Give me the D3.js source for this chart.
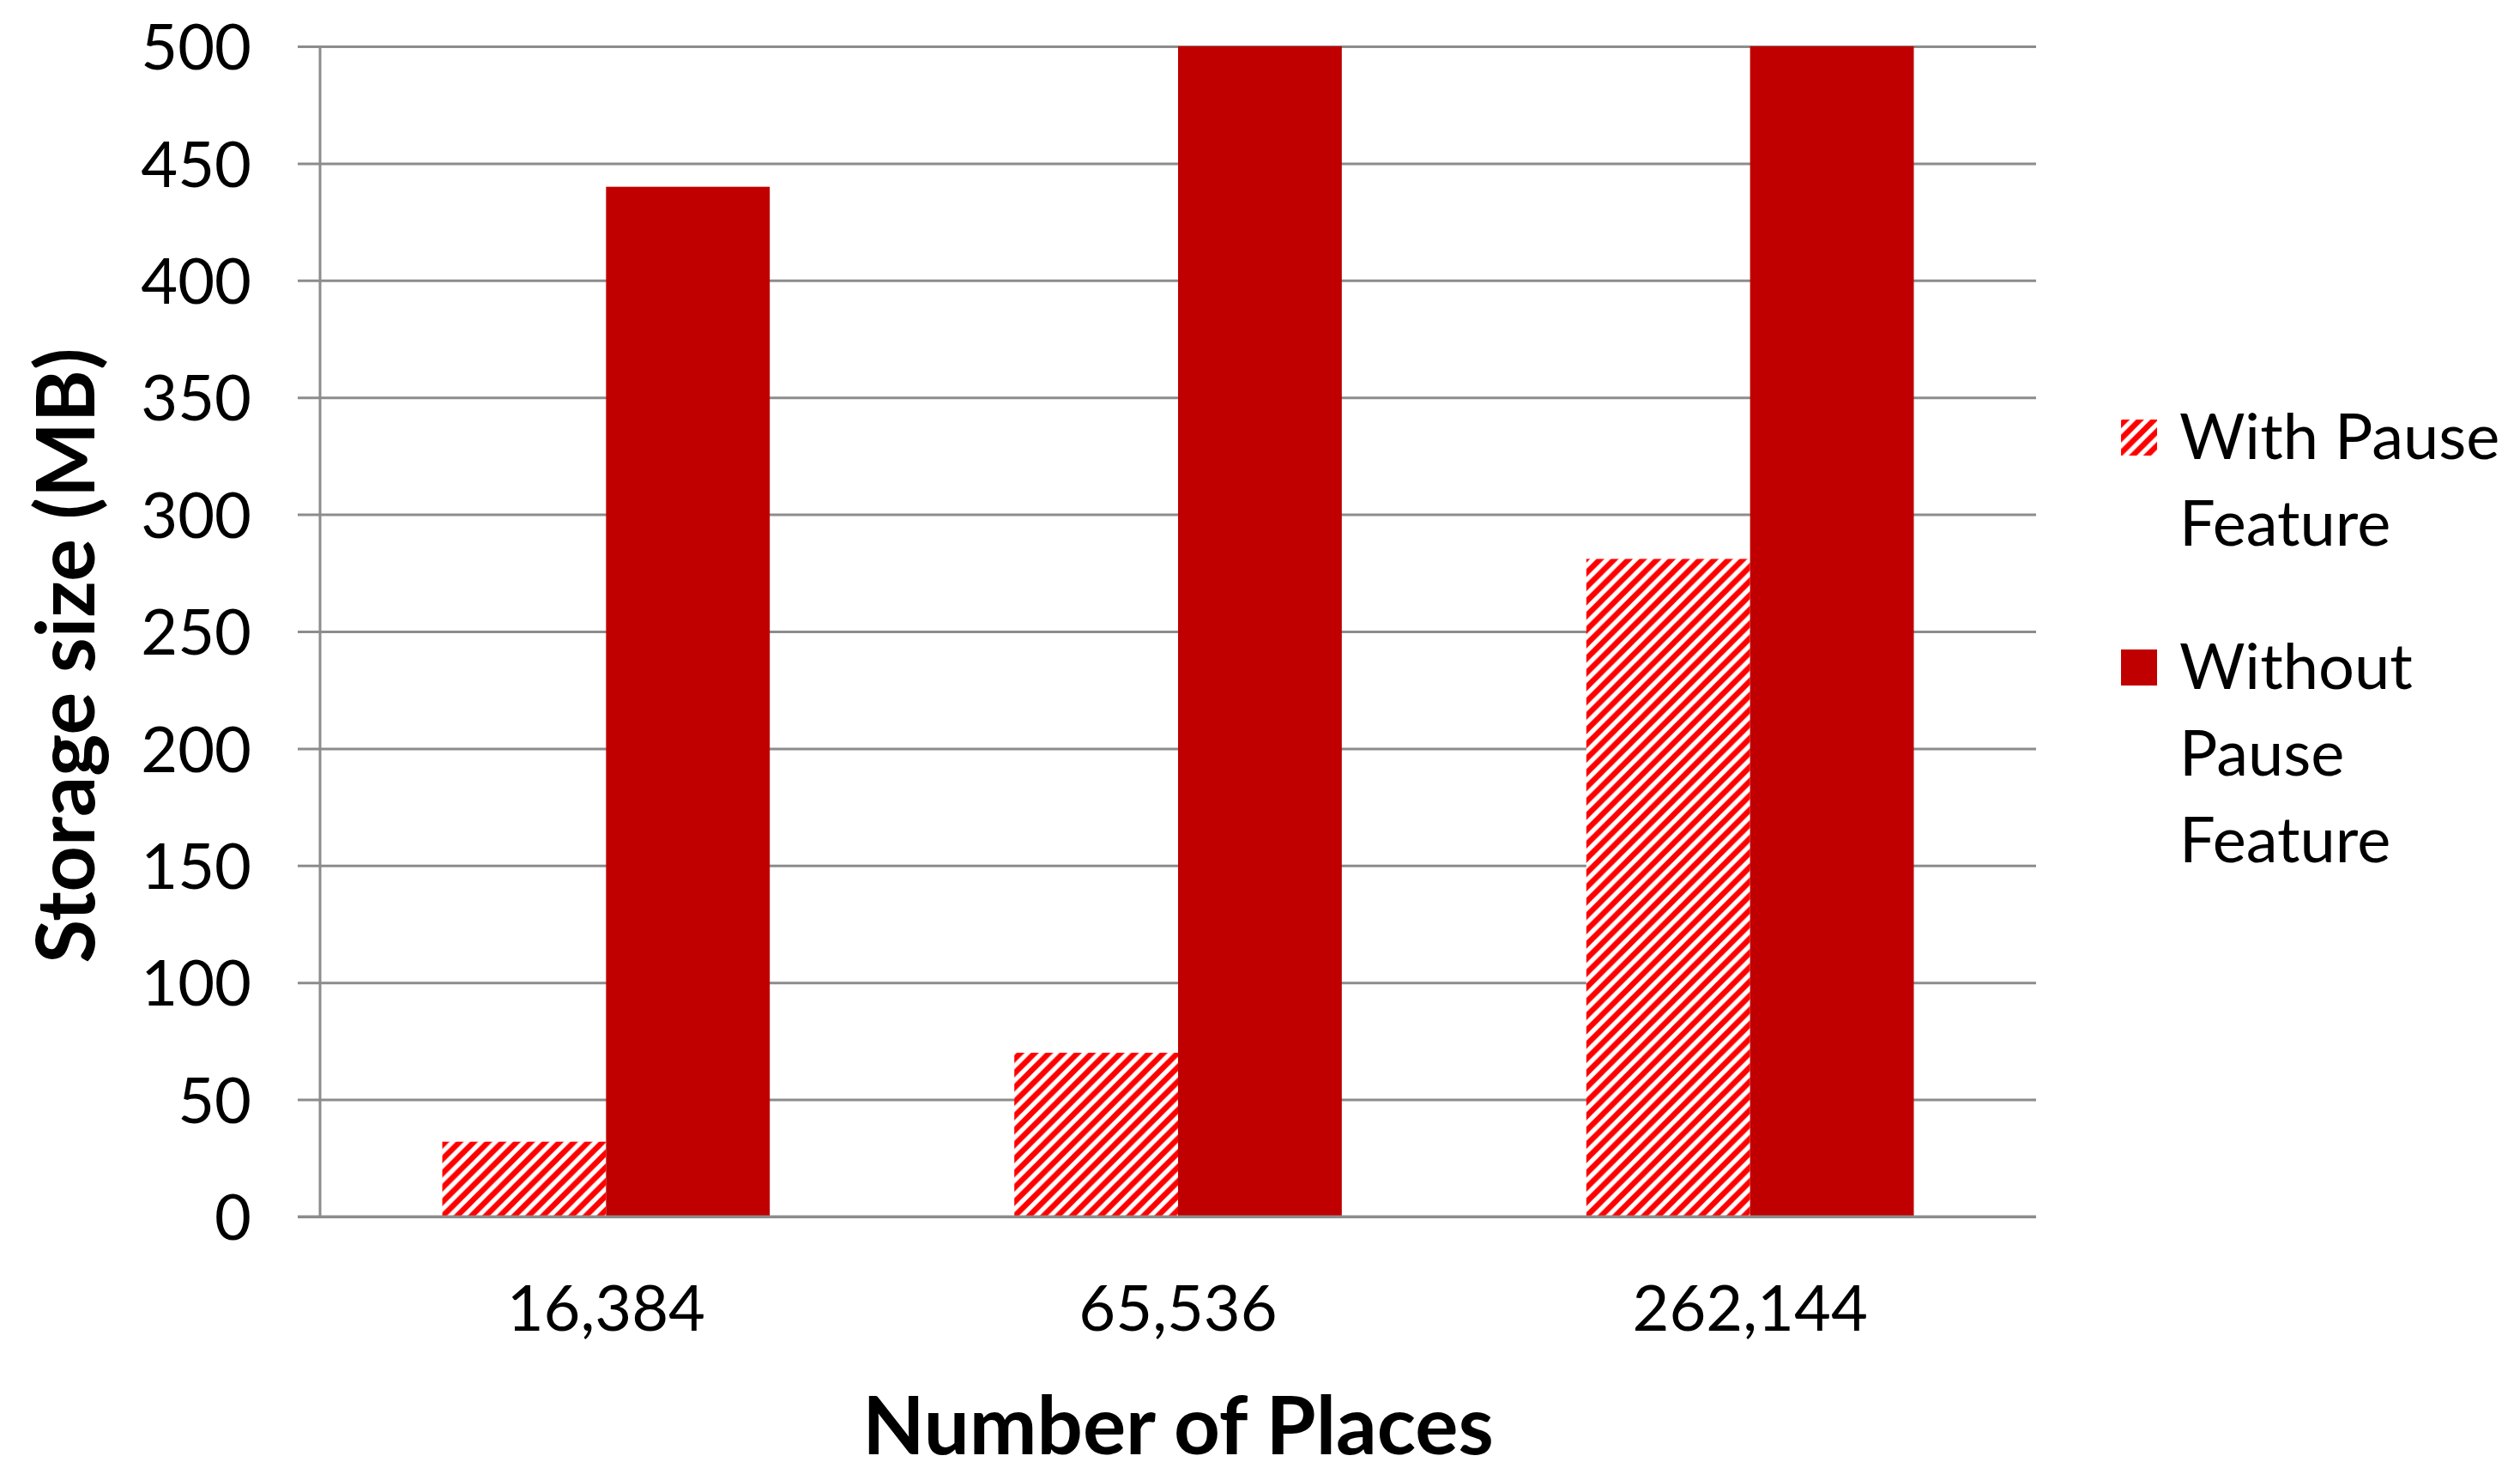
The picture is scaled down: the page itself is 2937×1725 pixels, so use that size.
<!DOCTYPE html>
<html><head><meta charset="utf-8">
<script src="https://cdn.jsdelivr.net/npm/d3@7"></script>
<style>body{margin:0;background:#fff;overflow:hidden}</style>
</head><body>
<svg id="c" width="2937" height="1725"></svg>
<script>
// ---- data ----
const categories = ["16,384", "65,536", "262,144"];
const seriesNames = ["With Pause Feature", "Without Pause Feature"];
const withPause = [32, 70, 281];
const withoutPause = [440, 500, 500];
const yTicks = [0, 50, 100, 150, 200, 250, 300, 350, 400, 450, 500];
const legendLines = [["With Pause", "Feature"], ["Without", "Pause", "Feature"]];
const xTitle = "Number of Places";
const yTitle = "Storage size (MB)";

const W = 2937, H = 1725;
const plot = {left: 373, right: 2373, top: 54, bottom: 1418};
const FONT = "Lato, 'Open Sans', sans-serif";
const GRID = "#8c8c8c";
const SOLID = "#c00000";
const HATCH = "#ff0000";

const svg = d3.select("#c");
svg.append("rect").attr("width", W).attr("height", H).attr("fill", "#fff");

// hatch pattern
const P = 50 / 3;
const defs = svg.append("defs");
const pat = defs.append("pattern").attr("id", "hatch")
  .attr("patternUnits", "userSpaceOnUse").attr("width", P).attr("height", P);
pat.append("rect").attr("width", P).attr("height", P).attr("fill", "#fff");
pat.append("path").attr("d", `M${-P/4},${P/4} L${P/4},${-P/4} M0,${P} L${P},0 M${3*P/4},${5*P/4} L${5*P/4},${3*P/4}`)
  .attr("stroke", HATCH).attr("stroke-width", P / Math.SQRT2 * 0.55);

const x0 = d3.scaleBand().domain(categories).range([plot.left, plot.right])
  .paddingInner(0.4275).paddingOuter(0.21375);
const x1 = d3.scaleBand().domain(seriesNames).range([0, x0.bandwidth()]);
const y = d3.scaleLinear().domain([0, 500]).range([plot.bottom, plot.top]);

// y axis with gridlines
const yAxis = svg.append("g").attr("transform", `translate(${plot.left},0)`)
  .call(d3.axisLeft(y).tickValues(yTicks).tickSize(-(plot.right - plot.left)).tickPadding(80));
yAxis.select(".domain").remove();
yAxis.selectAll(".tick line").attr("x1", -26).attr("stroke", GRID).attr("stroke-width", 3);
yAxis.selectAll(".tick text").attr("font-family", FONT).attr("font-size", 74)
  .attr("fill", "#000").attr("x", -80).attr("dy", "0.36em");

// vertical axis line
svg.append("line").attr("x1", plot.left).attr("x2", plot.left)
  .attr("y1", plot.top).attr("y2", plot.bottom).attr("stroke", GRID).attr("stroke-width", 3);

// bars
const series = [withPause, withoutPause];
const fills = ["url(#hatch)", SOLID];
series.forEach((vals, si) => {
  svg.append("g").selectAll("rect").data(vals).join("rect")
    .attr("x", (d, i) => x0(categories[i]) + x1(seriesNames[si]))
    .attr("width", x1.bandwidth())
    .attr("y", d => y(Math.min(d, 500)))
    .attr("height", d => y(0) - y(Math.min(d, 500)))
    .attr("fill", fills[si]);
});

// baseline redraw on top
svg.append("line").attr("x1", plot.left - 26).attr("x2", plot.right)
  .attr("y1", y(0)).attr("y2", y(0)).attr("stroke", GRID).attr("stroke-width", 3);

// x axis labels
const xAxis = svg.append("g").attr("transform", `translate(0,${plot.bottom})`)
  .call(d3.axisBottom(x0).tickSize(0).tickPadding(0));
xAxis.select(".domain").remove();
xAxis.selectAll(".tick text").attr("font-family", FONT).attr("font-size", 74)
  .attr("fill", "#000").attr("y", 133).attr("dy", 0);

// axis titles
svg.append("text").attr("x", (plot.left + plot.right) / 2).attr("y", 1695)
  .attr("text-anchor", "middle").attr("font-family", FONT).attr("font-weight", "bold")
  .attr("font-size", 94).text(xTitle);
svg.append("text").attr("transform", `translate(110,764) rotate(-90)`)
  .attr("text-anchor", "middle").attr("font-family", FONT).attr("font-weight", "bold")
  .attr("font-size", 93).text(yTitle);

// legend
const legendTop = [489, 757];
const lg = svg.append("g");
legendLines.forEach((lines, i) => {
  lg.append("rect").attr("x", 2472).attr("y", legendTop[i]).attr("width", 42).attr("height", 42)
    .attr("fill", fills[i]);
  const t = lg.append("text").attr("font-family", FONT).attr("font-size", 74).attr("fill", "#000");
  lines.forEach((ln, j) => {
    t.append("tspan").attr("x", 2540).attr("y", legendTop[i] + 46 + j * 101).text(ln);
  });
});
</script>
</body></html>
